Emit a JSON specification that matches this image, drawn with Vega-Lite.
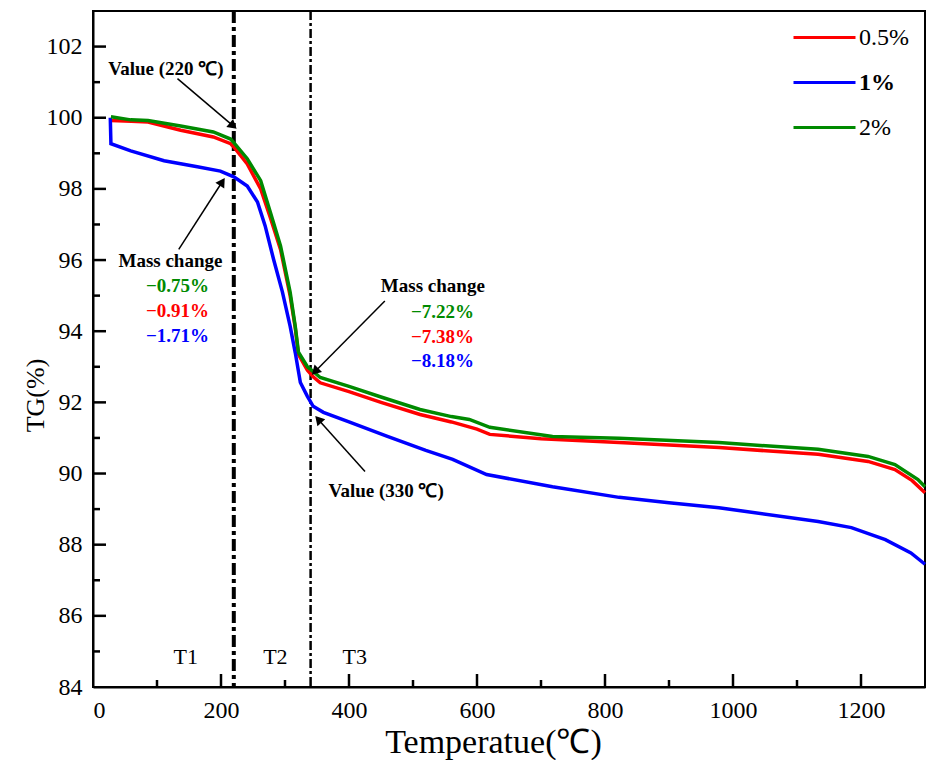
{
  "$schema": "https://vega.github.io/schema/vega-lite/v6.json",
  "width": 832,
  "height": 676,
  "autosize": {"type": "none"},
  "padding": {"left": 93, "top": 11, "right": 2, "bottom": 73},
  "background": "white",
  "config": {
    "view": {"stroke": "black", "strokeWidth": 2},
    "font": "Liberation Serif",
    "axis": {
      "grid": false,
      "ticks": false,
      "domainColor": "black",
      "domainWidth": 2,
      "labelFont": "Liberation Serif",
      "labelFontSize": 24,
      "labelColor": "black",
      "titleFont": "Liberation Serif",
      "titleColor": "black",
      "titleFontWeight": "normal"
    }
  },
  "datasets": {
    "tg": [
      {"s": "0.5%", "t": 28, "v": 99.92}, {"s": "0.5%", "t": 60, "v": 99.9}, {"s": "0.5%", "t": 86, "v": 99.88},
      {"s": "0.5%", "t": 137, "v": 99.65}, {"s": "0.5%", "t": 188, "v": 99.46}, {"s": "0.5%", "t": 215, "v": 99.27},
      {"s": "0.5%", "t": 220, "v": 99.18}, {"s": "0.5%", "t": 241, "v": 98.7}, {"s": "0.5%", "t": 262, "v": 98.0},
      {"s": "0.5%", "t": 277, "v": 97.2}, {"s": "0.5%", "t": 293, "v": 96.3}, {"s": "0.5%", "t": 308, "v": 95.0},
      {"s": "0.5%", "t": 316, "v": 94.1}, {"s": "0.5%", "t": 321, "v": 93.35}, {"s": "0.5%", "t": 335, "v": 92.9},
      {"s": "0.5%", "t": 344, "v": 92.72}, {"s": "0.5%", "t": 355, "v": 92.55}, {"s": "0.5%", "t": 400, "v": 92.3},
      {"s": "0.5%", "t": 450, "v": 92.0}, {"s": "0.5%", "t": 511, "v": 91.66}, {"s": "0.5%", "t": 560, "v": 91.45},
      {"s": "0.5%", "t": 600, "v": 91.25}, {"s": "0.5%", "t": 620, "v": 91.1}, {"s": "0.5%", "t": 700, "v": 90.98},
      {"s": "0.5%", "t": 822, "v": 90.87}, {"s": "0.5%", "t": 978, "v": 90.73}, {"s": "0.5%", "t": 1133, "v": 90.54},
      {"s": "0.5%", "t": 1211, "v": 90.34}, {"s": "0.5%", "t": 1253, "v": 90.11}, {"s": "0.5%", "t": 1280, "v": 89.8},
      {"s": "0.5%", "t": 1300, "v": 89.46},
      {"s": "1%", "t": 27, "v": 100.0}, {"s": "1%", "t": 28, "v": 99.27}, {"s": "1%", "t": 59, "v": 99.07},
      {"s": "1%", "t": 111, "v": 98.79}, {"s": "1%", "t": 163, "v": 98.62}, {"s": "1%", "t": 199, "v": 98.5},
      {"s": "1%", "t": 220, "v": 98.34}, {"s": "1%", "t": 241, "v": 98.08}, {"s": "1%", "t": 257, "v": 97.63},
      {"s": "1%", "t": 269, "v": 96.96}, {"s": "1%", "t": 282, "v": 96.03}, {"s": "1%", "t": 296, "v": 95.1},
      {"s": "1%", "t": 308, "v": 94.14}, {"s": "1%", "t": 316, "v": 93.4}, {"s": "1%", "t": 324, "v": 92.56},
      {"s": "1%", "t": 335, "v": 92.17}, {"s": "1%", "t": 344, "v": 91.89}, {"s": "1%", "t": 360, "v": 91.72},
      {"s": "1%", "t": 400, "v": 91.45}, {"s": "1%", "t": 459, "v": 91.05}, {"s": "1%", "t": 520, "v": 90.65},
      {"s": "1%", "t": 562, "v": 90.4}, {"s": "1%", "t": 615, "v": 89.97}, {"s": "1%", "t": 718, "v": 89.63},
      {"s": "1%", "t": 822, "v": 89.33}, {"s": "1%", "t": 900, "v": 89.18}, {"s": "1%", "t": 978, "v": 89.04},
      {"s": "1%", "t": 1133, "v": 88.65}, {"s": "1%", "t": 1185, "v": 88.48}, {"s": "1%", "t": 1238, "v": 88.14},
      {"s": "1%", "t": 1278, "v": 87.77}, {"s": "1%", "t": 1300, "v": 87.45},
      {"s": "2%", "t": 28, "v": 100.03}, {"s": "2%", "t": 59, "v": 99.94}, {"s": "2%", "t": 86, "v": 99.92},
      {"s": "2%", "t": 137, "v": 99.77}, {"s": "2%", "t": 188, "v": 99.6}, {"s": "2%", "t": 215, "v": 99.4},
      {"s": "2%", "t": 220, "v": 99.3}, {"s": "2%", "t": 241, "v": 98.85}, {"s": "2%", "t": 262, "v": 98.23},
      {"s": "2%", "t": 277, "v": 97.35}, {"s": "2%", "t": 293, "v": 96.4}, {"s": "2%", "t": 308, "v": 95.1},
      {"s": "2%", "t": 316, "v": 94.14}, {"s": "2%", "t": 321, "v": 93.41}, {"s": "2%", "t": 335, "v": 93.0},
      {"s": "2%", "t": 344, "v": 92.87}, {"s": "2%", "t": 355, "v": 92.7}, {"s": "2%", "t": 400, "v": 92.45},
      {"s": "2%", "t": 450, "v": 92.15}, {"s": "2%", "t": 511, "v": 91.8}, {"s": "2%", "t": 560, "v": 91.6},
      {"s": "2%", "t": 588, "v": 91.52}, {"s": "2%", "t": 620, "v": 91.3}, {"s": "2%", "t": 718, "v": 91.04},
      {"s": "2%", "t": 822, "v": 90.99}, {"s": "2%", "t": 978, "v": 90.87}, {"s": "2%", "t": 1133, "v": 90.68},
      {"s": "2%", "t": 1211, "v": 90.48}, {"s": "2%", "t": 1253, "v": 90.25}, {"s": "2%", "t": 1289, "v": 89.83},
      {"s": "2%", "t": 1300, "v": 89.63}
    ],
    "notes": [
      {"t": 114, "v": 101.38, "text": "Value (220 ℃)"},
      {"t": 121, "v": 95.97, "text": "Mass change"},
      {"t": 531, "v": 95.27, "text": "Mass change"},
      {"t": 458, "v": 89.52, "text": "Value (330 ℃)"}
    ],
    "pct": [
      {"s": "2%", "t": 132, "v": 95.27, "text": "−0.75%"},
      {"s": "0.5%", "t": 132, "v": 94.56, "text": "−0.91%"},
      {"s": "1%", "t": 132, "v": 93.86, "text": "−1.71%"},
      {"s": "2%", "t": 546, "v": 94.54, "text": "−7.22%"},
      {"s": "0.5%", "t": 546, "v": 93.83, "text": "−7.38%"},
      {"s": "1%", "t": 546, "v": 93.15, "text": "−8.18%"}
    ],
    "arrows": [
      {"t": 132, "v": 101.1, "t2": 219, "v2": 99.77},
      {"t": 134, "v": 96.3, "t2": 202, "v2": 98.2},
      {"t": 456, "v": 94.85, "t2": 347, "v2": 92.87},
      {"t": 425, "v": 90.06, "t2": 352, "v2": 91.52}
    ],
    "stages": [
      {"t": 145, "v": 84.85, "text": "T1"},
      {"t": 285, "v": 84.85, "text": "T2"},
      {"t": 409, "v": 84.85, "text": "T3"}
    ],
    "xmajor": [{"t": 200}, {"t": 400}, {"t": 600}, {"t": 800}, {"t": 1000}, {"t": 1200}],
    "xminor": [{"t": 100}, {"t": 300}, {"t": 500}, {"t": 700}, {"t": 900}, {"t": 1100}],
    "ymajor": [{"v": 86}, {"v": 88}, {"v": 90}, {"v": 92}, {"v": 94}, {"v": 96}, {"v": 98}, {"v": 100}, {"v": 102}],
    "yminor": [{"v": 85}, {"v": 87}, {"v": 89}, {"v": 91}, {"v": 93}, {"v": 95}, {"v": 97}, {"v": 99}, {"v": 101}]
  },
  "layer": [
    {
      "data": {"name": "xmajor"},
      "mark": {"type": "tick", "orient": "vertical", "color": "black", "size": 13, "thickness": 2.5, "opacity": 1, "yOffset": -6.5},
      "encoding": {
        "x": {"field": "t", "type": "quantitative"},
        "y": {"datum": 84, "type": "quantitative"}
      }
    },
    {
      "data": {"name": "xminor"},
      "mark": {"type": "tick", "orient": "vertical", "color": "black", "size": 7, "thickness": 2.5, "opacity": 1, "yOffset": -3.5},
      "encoding": {
        "x": {"field": "t", "type": "quantitative"},
        "y": {"datum": 84, "type": "quantitative"}
      }
    },
    {
      "data": {"name": "ymajor"},
      "mark": {"type": "tick", "orient": "horizontal", "color": "black", "size": 13, "thickness": 2.5, "opacity": 1, "xOffset": 6.5},
      "encoding": {
        "y": {"field": "v", "type": "quantitative"},
        "x": {"datum": 0, "type": "quantitative"}
      }
    },
    {
      "data": {"name": "yminor"},
      "mark": {"type": "tick", "orient": "horizontal", "color": "black", "size": 7, "thickness": 2.5, "opacity": 1, "xOffset": 3.5},
      "encoding": {
        "y": {"field": "v", "type": "quantitative"},
        "x": {"datum": 0, "type": "quantitative"}
      }
    },
    {
      "data": {"values": [{"t": 220}]},
      "mark": {"type": "rule", "color": "black", "strokeWidth": 4, "strokeDash": [12, 4, 4, 4]},
      "encoding": {"x": {"field": "t", "type": "quantitative"}}
    },
    {
      "data": {"values": [{"t": 340}]},
      "mark": {"type": "rule", "color": "black", "strokeWidth": 2.5, "strokeDash": [9, 3, 3, 3]},
      "encoding": {"x": {"field": "t", "type": "quantitative"}}
    },
    {
      "data": {"name": "tg"},
      "mark": {"type": "line", "strokeWidth": 3.5},
      "encoding": {
        "x": {
          "field": "t", "type": "quantitative",
          "scale": {"domain": [0, 1300], "nice": false, "zero": false},
          "axis": {
            "title": "Temperatue(℃)",
            "titleFontSize": 34,
            "titlePadding": 3,
            "titleX": 400,
            "format": "d",
            "values": [0, 200, 400, 600, 800, 1000, 1200],
            "labelPadding": 11,
            "labelFontSize": 24
          }
        },
        "y": {
          "field": "v", "type": "quantitative",
          "scale": {"domain": [84, 103], "nice": false, "zero": false},
          "axis": {
            "title": "TG(%)",
            "titleFontSize": 26,
            "titlePadding": -2,
            "titleY": 384,
            "values": [84, 86, 88, 90, 92, 94, 96, 98, 100, 102],
            "labelPadding": 11,
            "labelFontSize": 24
          }
        },
        "color": {
          "field": "s", "type": "nominal",
          "scale": {"domain": ["0.5%", "1%", "2%"], "range": ["#ff0000", "#0000ff", "#008a00"]},
          "legend": {
            "title": null,
            "orient": "none",
            "legendX": 699,
            "legendY": -6,
            "symbolType": "stroke",
            "symbolSize": 3844,
            "symbolStrokeWidth": 3,
            "labelFont": "Liberation Serif",
            "labelFontSize": 24,
            "labelColor": "black",
            "labelOffset": 2,
            "rowPadding": -31,
            "labelFontWeight": {"expr": "datum.label === '1%' ? 'bold' : 'normal'"}
          }
        }
      }
    },
    {
      "data": {"name": "arrows"},
      "mark": {"type": "rule", "color": "black", "strokeWidth": 1.5},
      "encoding": {
        "x": {"field": "t", "type": "quantitative"},
        "y": {"field": "v", "type": "quantitative"},
        "x2": {"field": "t2"},
        "y2": {"field": "v2"}
      }
    },
    {
      "data": {"name": "arrows"},
      "transform": [
        {"calculate": "atan2((datum.t2 - datum.t) * 832 / 1300, (datum.v2 - datum.v) * 676 / 19) * 180 / PI", "as": "ang"}
      ],
      "mark": {"type": "point", "shape": "triangle-up", "filled": true, "color": "black", "size": 110, "opacity": 1},
      "encoding": {
        "x": {"field": "t2", "type": "quantitative"},
        "y": {"field": "v2", "type": "quantitative"},
        "angle": {"field": "ang", "type": "quantitative", "scale": null}
      }
    },
    {
      "data": {"name": "notes"},
      "mark": {"type": "text", "font": "Liberation Serif", "fontWeight": "bold", "fontSize": 19, "color": "black"},
      "encoding": {
        "x": {"field": "t", "type": "quantitative"},
        "y": {"field": "v", "type": "quantitative"},
        "text": {"field": "text"}
      }
    },
    {
      "data": {"name": "pct"},
      "transform": [{"filter": "datum.s === '2%'"}],
      "mark": {"type": "text", "font": "Liberation Serif", "fontWeight": "bold", "fontSize": 19, "color": "#008a00"},
      "encoding": {
        "x": {"field": "t", "type": "quantitative"},
        "y": {"field": "v", "type": "quantitative"},
        "text": {"field": "text"}
      }
    },
    {
      "data": {"name": "pct"},
      "transform": [{"filter": "datum.s === '0.5%'"}],
      "mark": {"type": "text", "font": "Liberation Serif", "fontWeight": "bold", "fontSize": 19, "color": "#ff0000"},
      "encoding": {
        "x": {"field": "t", "type": "quantitative"},
        "y": {"field": "v", "type": "quantitative"},
        "text": {"field": "text"}
      }
    },
    {
      "data": {"name": "pct"},
      "transform": [{"filter": "datum.s === '1%'"}],
      "mark": {"type": "text", "font": "Liberation Serif", "fontWeight": "bold", "fontSize": 19, "color": "#0000ff"},
      "encoding": {
        "x": {"field": "t", "type": "quantitative"},
        "y": {"field": "v", "type": "quantitative"},
        "text": {"field": "text"}
      }
    },
    {
      "data": {"name": "stages"},
      "mark": {"type": "text", "font": "Liberation Serif", "fontSize": 22, "color": "black"},
      "encoding": {
        "x": {"field": "t", "type": "quantitative"},
        "y": {"field": "v", "type": "quantitative"},
        "text": {"field": "text"}
      }
    }
  ]
}
